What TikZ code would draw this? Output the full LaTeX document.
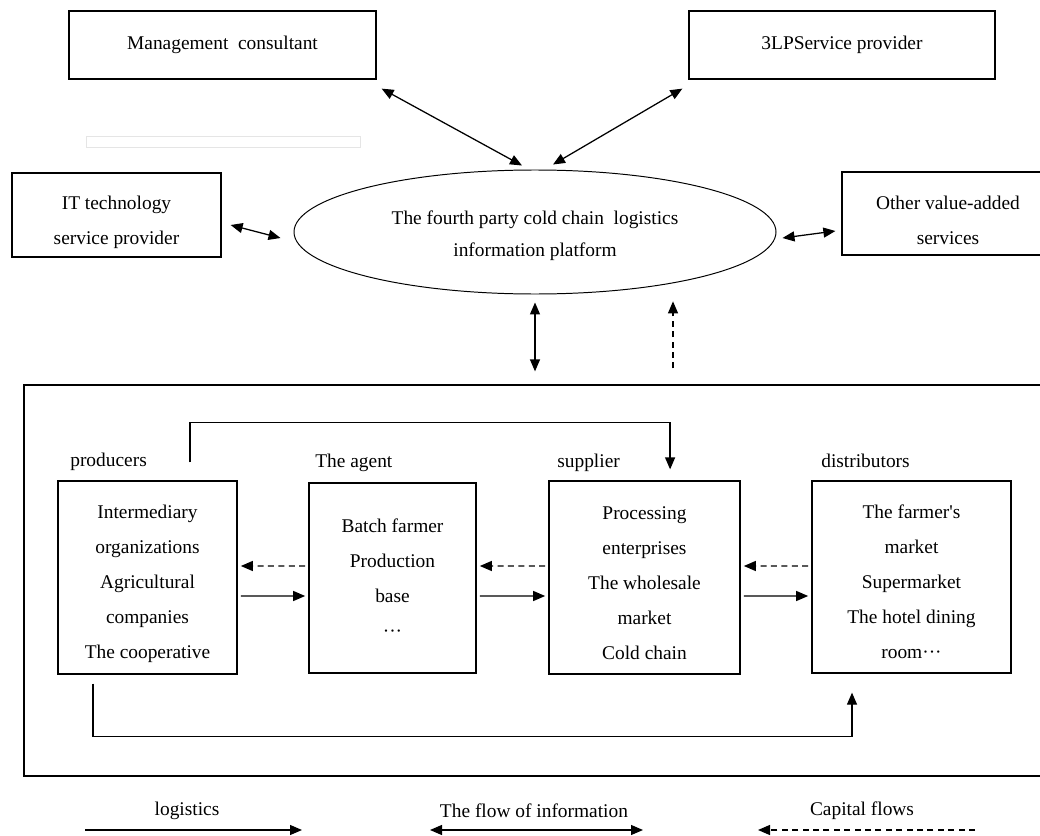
\documentclass[tikz,border=0pt]{standalone}
\usepackage{fontspec}
\setmainfont{Liberation Serif}
\usetikzlibrary{arrows.meta,positioning,shapes.geometric,calc}

\newcommand{\lift}[1]{\rule{0pt}{#1}}

\begin{document}
\begin{tikzpicture}[
    >={Triangle[length=0.3cm,width=0.25cm]},
    font=\fontsize{13.8}{24.9}\selectfont,
    line width=0.9pt,
    box/.style={rectangle, draw, align=center, inner sep=0pt},
    hub/.style={ellipse, draw, align=center, inner sep=0pt, line width=0.7pt,
                minimum width=12.05cm, minimum height=3.1cm,
                font=\fontsize{13.8}{22.8}\selectfont},
    tag/.style={anchor=base west},
    cash/.style={dash pattern=on 0.15cm off 0.11cm},
    gap/.style={shorten <=0.08cm, shorten >=0.08cm}
]
    \useasboundingbox (0,0) rectangle (26,-20.9);

    % Platform and its partners
    \node[box, minimum width=7.675cm, minimum height=1.7cm] (mgmt) at (5.5625,-1.125)
        {Management~~consultant};
    \node[box, minimum width=7.65cm, minimum height=1.7cm] (tlp) at (21.05,-1.125)
        {3LPService provider};
    \draw[gray!20, line width=0.6pt] (2.15,-3.4) rectangle (9,-3.675);
    \node[box, minimum width=5.225cm, minimum height=2.1cm] (it) at (2.9125,-5.375)
        {\lift{0.68cm}IT technology\\service provider};
    \node[hub] (platform) at (13.375,-5.8)
        {\lift{0.54cm}The fourth party cold chain~~logistics\\information platform};
    \node[box, minimum width=5.3cm, minimum height=2.075cm] (other) at (23.7,-5.3375)
        {\lift{0.68cm}Other value-added\\services};

    \draw[<->] ([shift={(0.125,-0.225)}]mgmt.south east) -- ([shift={(-0.325,0.1)}]platform.north);
    \draw[<->] ([shift={(0.45,0.125)}]platform.north) -- ([shift={(-0.15,-0.225)}]tlp.south west);
    \draw[<->] ([shift={(0.225,-0.25)}]it.east) -- ([shift={(-0.325,-0.15)}]platform.west);
    \draw[<->] ([shift={(0.15,-0.15)}]platform.east) -- ([shift={(-0.15,-0.4375)}]other.west);

    % Supply chain frame
    \node[draw, inner sep=0pt, minimum width=25.65cm, minimum height=9.775cm] (chain)
        at (13.425,-14.5125) {};
    \draw[<->, shorten <=0.2cm, shorten >=0.325cm] (platform.south) -- (platform.south |- chain.north);
    \draw[->, cash, shorten <=0.4cm] ([xshift=3.4cm]chain.north) -- ++(0,2.075);

    \node[box, minimum width=4.475cm, minimum height=4.825cm] (prod) at (3.6875,-14.4375)
        {\lift{0.63cm}Intermediary\\organizations\\Agricultural\\companies\\The cooperative};
    \node[box, minimum width=4.175cm, minimum height=4.75cm] (agent) at (9.8125,-14.45)
        {Batch farmer\\Production\\base\\\textperiodcentered\textperiodcentered\textperiodcentered};
    \node[box, minimum width=4.775cm, minimum height=4.825cm] (supp) at (16.1125,-14.4375)
        {\lift{0.6cm}Processing\\enterprises\\The wholesale\\market\\Cold chain};
    \node[box, minimum width=4.975cm, minimum height=4.8cm] (dist) at (22.7875,-14.425)
        {\lift{0.6cm}The farmer\textquotesingle s\\market\\Supermarket\\The hotel dining\\room\textperiodcentered\textperiodcentered\textperiodcentered};

    \node[tag] (prodtag)  at (1.625,-11.65)  {producers};
    \node[tag] (agenttag) at (7.75,-11.675)  {The agent};
    \node[tag] (supptag)  at (13.8,-11.675)  {supplier};
    \node[tag] (disttag)  at (20.4,-11.675)  {distributors};

    % Flows between the stages
    \draw[->, cash, gap] ([yshift=0.3cm]agent.west) -- ([yshift=0.2875cm]prod.east);
    \draw[->, gap] ([yshift=-0.4625cm]prod.east) -- ([yshift=-0.45cm]agent.west);
    \draw[->, cash, gap] ([yshift=0.2875cm]supp.west) -- ([yshift=0.3cm]agent.east);
    \draw[->, gap] ([yshift=-0.45cm]agent.east) -- ([yshift=-0.4625cm]supp.west);
    \draw[->, cash, gap] ([yshift=0.275cm]dist.west) -- ([yshift=0.2875cm]supp.east);
    \draw[->, gap] ([yshift=-0.4625cm]supp.east) -- ([yshift=-0.475cm]dist.west);

    \draw[->] ([xshift=1.0625cm,yshift=0.45cm]prod.north) -- ++(0,1)
        -| ([xshift=0.64cm,yshift=0.275cm]supp.north);
    \draw[->] ([xshift=-1.3625cm,yshift=-0.225cm]prod.south) -- ++(0,-1.325)
        -| ([xshift=-1.4875cm,yshift=-0.475cm]dist.south);

    % Legend
    \node (lglog)  at (4.675,-20.27) {logistics};
    \node (lginfo) at (13.35,-20.27) {The flow of information};
    \node (lgcap)  at (21.55,-20.27) {Capital flows};
    \coordinate (lglogA)  at (2.125,-20.75);
    \coordinate (lglogB)  at (7.55,-20.75);
    \coordinate (lginfoA) at (10.75,-20.75);
    \coordinate (lginfoB) at (16.075,-20.75);
    \coordinate (lgcapA)  at (24.375,-20.75);
    \coordinate (lgcapB)  at (18.95,-20.75);
    \draw[->] (lglogA) -- (lglogB);
    \draw[<->] (lginfoA) -- (lginfoB);
    \draw[->, cash] (lgcapA) -- (lgcapB);
\end{tikzpicture}
\end{document}
